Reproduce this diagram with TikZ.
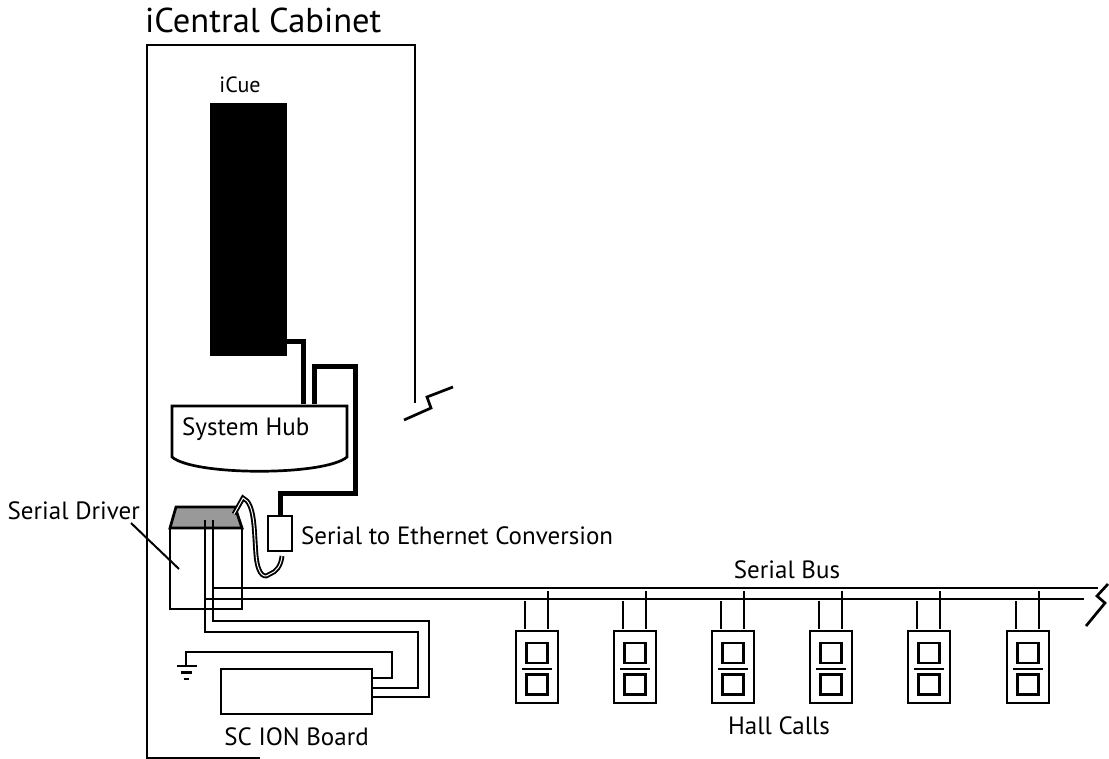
\documentclass[tikz,border=0pt]{standalone}
\usepackage{fontspec}
\setmainfont{PT Sans}
\tikzset{
	wire/.style={line width=2.7pt},
	fatwire/.style={line width=5pt,line join=miter},
	outline/.style={draw,line width=2.7pt,inner sep=0pt,outer sep=0pt},
	label/.style={inner sep=0pt,font=\fontsize{25}{27}\selectfont},
}
\begin{document}
\begin{tikzpicture}[x=1pt,y=-1pt]
	\useasboundingbox (0,0) rectangle (1109,759);
	% cabinet
	\node[label,anchor=base west,font=\fontsize{34.5}{36}\selectfont] (cabinetname) at (145,33) {iCentral Cabinet};
	\coordinate (cabinetend) at (260,758);
	\coordinate (cabinettop) at (147,45);
	\coordinate (cabinetright) at (415,403);
	\draw[wire] (cabinetend) -| (cabinettop) -| (cabinetright);
	\coordinate (breaktop) at (453,387);
	\coordinate (breakbottom) at (404,420);
	\draw[wire] (breaktop) -- (427,397) -- (431,408) -- (breakbottom);
	% icue
	\node[label,font=\fontsize{22}{24}\selectfont] (icuename) at (240,85) {iCue};
	\node[fill=black,inner sep=0pt,outer sep=0pt,minimum width=77pt,minimum height=253pt] (icue) at (248.5,229.5) {};
	% hub
	\coordinate (hubnw) at (172,406);
	\coordinate (hubne) at (347,406);
	\draw[wire] (hubnw) -- (hubne) -- (347,457) .. controls (325,476) and (194,476) .. (172,457) -- cycle;
	\node[label,anchor=west] (hubname) at (182,429) {System Hub};
	\coordinate (hubin) at (303,404);
	\coordinate (hubout) at (314,404);
	\coordinate (icueout) at (286,342);
	\draw[fatwire] (icueout) -| (hubin);
	% serial converter
	\node[outline,minimum width=24pt,minimum height=35pt] (converter) at (280,533.5) {};
	\node[label,anchor=west] (convertername) at (301,536) {Serial to Ethernet Conversion};
	\draw[fatwire] (hubout) |- (355,367) |- (280,493) -- (converter.north);
	% driver
	\node[outline,minimum width=72pt,minimum height=81pt] (driver) at (206,568.5) {};
	\draw[wire,fill=gray!80] (driver.north west) -- (176,507) -- (235,507) -- (driver.north east) -- cycle;
	\node[label,anchor=base east] (drivername) at (140,519) {Serial Driver};
	\coordinate (driverpoint) at (179,569);
	\draw[line width=2pt] (131,523) -- (driverpoint);
	% cable
	\coordinate (cablestart) at (234,514);
	\coordinate (cableend) at (282,556);
	\draw[line width=1.9pt,double=white,double distance=1pt] (cablestart) -- (243,498) .. controls (255,503) and (254,530) .. (256,555) .. controls (258,578) and (266,578) .. (270,574) .. controls (276,572) and (281,566) .. (cableend);
	% board
	\node[outline,minimum width=151pt,minimum height=45pt] (board) at (296.5,691.5) {};
	\node[label] (boardname) at (296.5,737) {SC ION Board};
	\coordinate (wirea) at (205,520);
	\coordinate (wireb) at (213,520);
	\draw[wire] (wirea) |- (418,632) |- (board.east |- 0,688);
	\draw[wire] (wireb) |- (429,621) |- (board.east |- 0,697);
	% ground
	\coordinate (gnd) at (186,666);
	\draw[wire] (board.east |- 0,678) -| (392,652) -| (gnd);
	\draw[wire] (177,666) -- (197,666);
	\draw[wire] (181,672.5) -- (192,672.5);
	\draw[wire] (183.5,679) -- (188.5,679);
	% bus
	\node[label] (busname) at (787,570) {Serial Bus};
	\coordinate (busa) at (213,588);
	\coordinate (busb) at (205,599);
	\coordinate (busaend) at (1098,588);
	\coordinate (busbend) at (1084,599);
	\draw[wire] (busa) -- (busaend);
	\draw[wire] (busb) -- (busbend);
	\coordinate (bustop) at (1108,584);
	\coordinate (busbottom) at (1086,626);
	\draw[wire] (bustop) -- (1097,596) -- (1105,603) -- (busbottom);
	% hall calls
	\node[label] (hallname) at (779,726) {Hall Calls};
	\foreach \i/\x in {1/537,2/635,3/733,4/831,5/929,6/1028} {
		\node[outline,minimum width=42pt,minimum height=72pt] (hall\i) at (\x,667) {};
		\node[outline,minimum width=21pt,minimum height=20pt] (hallup\i) at (\x,653) {};
		\node[outline,minimum width=21pt,minimum height=20pt] (halldown\i) at (\x,684.5) {};
		\coordinate (dividerl\i) at (\x-15,669);
		\coordinate (dividerr\i) at (\x+15,669);
		\draw[wire] (dividerl\i) -- (dividerr\i);
		\coordinate (halla\i) at (\x-12,601);
		\coordinate (hallb\i) at (\x+11,591);
		\draw[wire] (halla\i) -- (\x-12,629);
		\draw[wire] (hallb\i) -- (\x+11,629);
	}
\end{tikzpicture}
\end{document}
